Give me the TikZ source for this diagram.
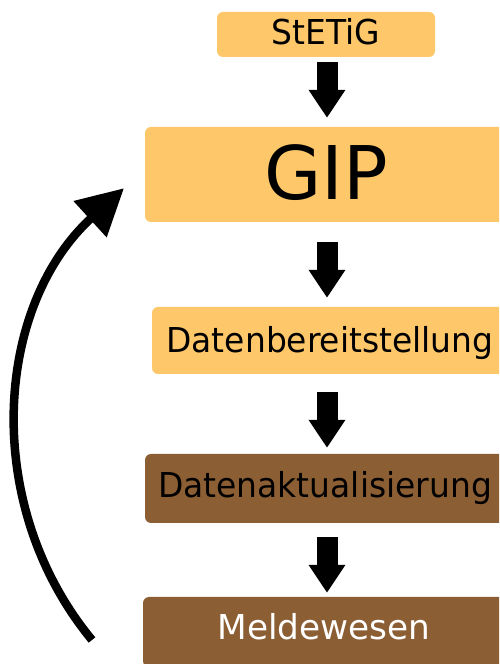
\documentclass[tikz,border=0pt]{standalone}
\usepackage{fontspec}
\setmainfont{DejaVu Sans}
\newfontfamily\narrowfont{DejaVu Sans}[FakeStretch=0.96]
\usetikzlibrary{arrows.meta}
\definecolor{boxorange}{RGB}{253,199,106}
\definecolor{boxbrown}{RGB}{140,94,52}
\begin{document}
\begin{tikzpicture}[x=1pt,y=1pt,
  stagebox/.style={rectangle, rounded corners=6pt, inner sep=0pt, font=\fontsize{34.3}{40}\selectfont, text height=25pt},
  narrowtext/.style={font=\narrowfont\fontsize{34.3}{40}\selectfont},
  lightbox/.style={stagebox, fill=boxorange, text=black},
  darkbox/.style={stagebox, fill=boxbrown},
  blockarrow/.style={line width=21pt, -{Triangle[length=28pt,width=35pt]}},
  looparrow/.style={line width=8.5pt, -{Triangle[length=46pt,width=47pt]}}
]
\useasboundingbox (0,0) rectangle (499,664);
\clip (0,0) rectangle (499,664);
\fill[white] (0,0) rectangle (499,664);

\node[lightbox, narrowtext, minimum width=218pt, minimum height=45pt, text depth=4pt] (stetig) at (326,629.5) {StETiG};
\node[lightbox, minimum width=362pt, minimum height=95pt, font=\fontsize{74}{80}\selectfont, text height=54pt, text depth=4pt] (gip) at (326,489.5) {GIP};
\node[lightbox, narrowtext, minimum width=356pt, minimum height=67pt, text depth=0pt] (bereit) at (330,323.5) {Datenbereitstellung};
\node[darkbox, narrowtext, text=black, minimum width=360pt, minimum height=69pt, text depth=7pt] (aktual) at (325,175.5) {Datenaktualisierung};
\node[darkbox, text=white, minimum width=362pt, minimum height=70pt, text depth=9pt] (melde) at (324,32) {Meldewesen};

\draw[blockarrow, shorten <=5pt, shorten >=9pt] ([xshift=1pt]stetig.south) -- ([xshift=1pt]gip.north);
\draw[blockarrow, shorten <=20pt, shorten >=9pt] ([xshift=1pt]gip.south) -- ([xshift=-3pt]bereit.north);
\draw[blockarrow, shorten <=18pt, shorten >=6pt] ([xshift=-3pt]bereit.south) -- ([xshift=2pt]aktual.north);
\draw[blockarrow, shorten <=14pt, shorten >=4pt] ([xshift=2pt]aktual.south) -- ([xshift=3pt]melde.north);

\coordinate (loopstart) at (92,24);
\draw[looparrow] (loopstart) arc[start angle=219.5, end angle=132.4, radius=328.7];
\end{tikzpicture}
\end{document}
